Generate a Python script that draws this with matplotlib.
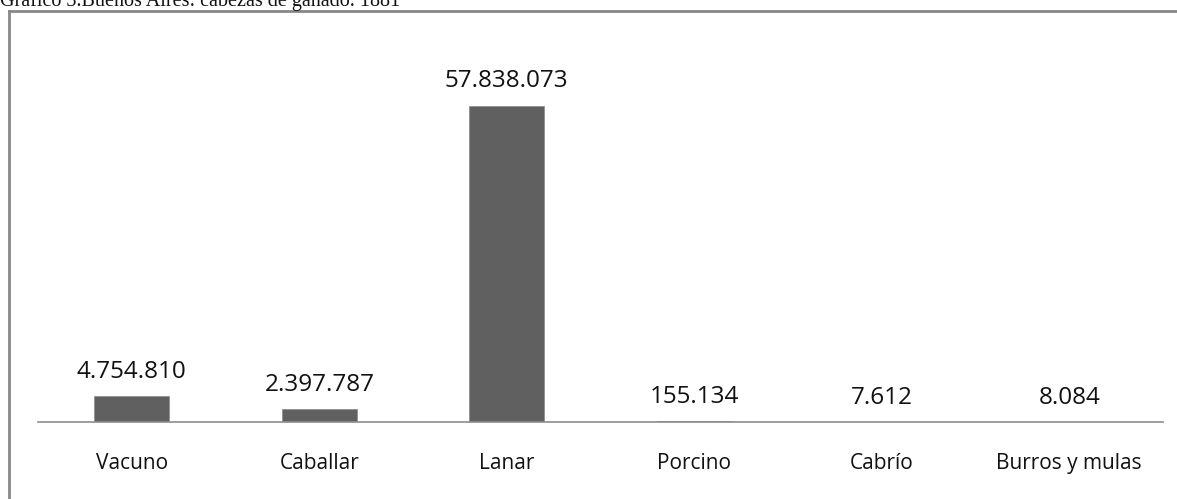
import matplotlib
matplotlib.use("Agg")
import matplotlib.pyplot as plt
from matplotlib.lines import Line2D

categories = ["Vacuno", "Caballar", "Lanar", "Porcino", "Cabrío", "Burros y mulas"]
values = [4754810, 2397787, 57838073, 155134, 7612, 8084]
title = "Gráfico 3.Buenos Aires: cabezas de ganado. 1881"


def fmt(v):
    return f"{v:,}".replace(",", ".")


W, H = 1177, 499
fig = plt.figure(figsize=(W / 100, H / 100), dpi=100)
fig.patch.set_facecolor("white")

# plot area in pixel terms
left, right, base, top = 38, 1163, 422, 94
ax = fig.add_axes([left / W, (H - base) / H, (right - left) / W, (base - top) / H])
ax.set_facecolor("white")

x = list(range(len(categories)))
ax.bar(x, values, width=0.4, color="#606060", edgecolor="#909090", linewidth=0.6)
ax.set_xlim(-0.5, len(categories) - 0.5)
ax.set_ylim(0, 60000000)

for xi, v in zip(x, values):
    ax.annotate(fmt(v), (xi, v), xytext=(0, 13.2), textcoords="offset points",
                ha="center", va="baseline", fontsize=17.5, family="Open Sans", color="#111111")

ax.set_xticks(x)
ax.set_xticklabels(categories, fontsize=15, family="Open Sans", color="#111111")
ax.tick_params(axis="x", length=0, pad=22.5)
ax.set_yticks([])
for s in ["top", "right", "left"]:
    ax.spines[s].set_visible(False)
ax.spines["bottom"].set_color("#8c8c8c")
ax.spines["bottom"].set_linewidth(1.2)

# outer chart frame (left and top edges)
fx = 9 / W
fy = 1 - 11 / H
fig.add_artist(Line2D([fx, fx], [0, fy], transform=fig.transFigure, color="#888888", linewidth=2))
fig.add_artist(Line2D([fx, 1], [fy, fy], transform=fig.transFigure, color="#888888", linewidth=2))

fig.text(0.0, 1 - 6 / H, title, ha="left", va="baseline", fontsize=14.5,
         family="Liberation Serif", color="#111111")

fig.savefig("out.png", dpi=100)
